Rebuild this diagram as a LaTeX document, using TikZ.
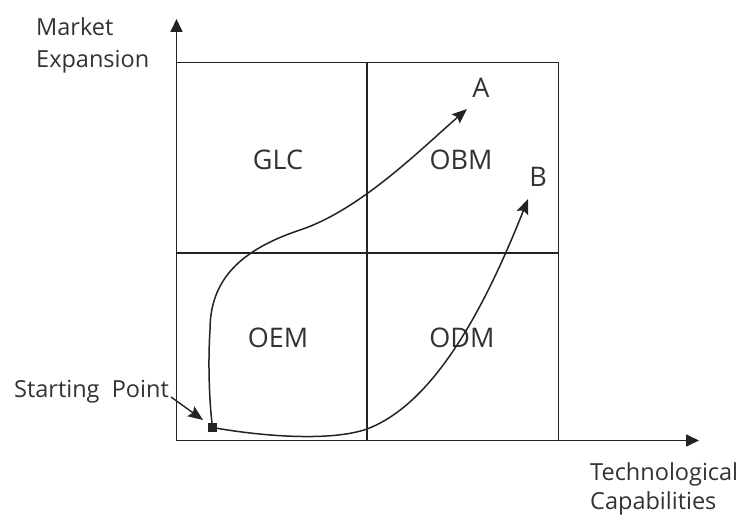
\documentclass[tikz,border=0pt]{standalone}
\usepackage{fontspec}
\setmainfont{Open Sans}
\usetikzlibrary{arrows.meta}
\definecolor{lc}{RGB}{35,35,35}
\definecolor{tc}{RGB}{50,50,50}
\begin{document}
\begin{tikzpicture}[x=1pt,y=-1pt,
  ln/.style={draw=lc, line width=1.7pt},
  axis/.style={draw=lc, line width=1.7pt, -{Triangle[length=13pt,width=12pt]}},
  curve/.style={draw=lc, line width=1.5pt, -{Stealth[length=15pt,width=12pt,inset=2.5pt]}},
  axlbl/.style={text=tc, inner sep=0, align=left},
  qlbl/.style={font=\fontsize{27}{32}\selectfont, text=tc, inner sep=0},
]
\useasboundingbox (0,0) rectangle (742,516);
% axes
\coordinate (O) at (176.5,440.5);
\coordinate (ytip) at (176.5,19);
\coordinate (xtip) at (699,440.5);
\draw[axis] (O) -- (ytip);
\draw[axis] (O) -- (xtip);
% grid
\draw[ln] (176.5,62.5) -- (558.5,62.5) -- (558.5,440.5);
\draw[ln] (367,62.5) -- (367,440.5);
\draw[ln] (176.5,253) -- (558.5,253);
% quadrant labels
\node[qlbl] (glc) at (278,160) {GLC};
\node[qlbl] (obm) at (461,160) {OBM};
\node[qlbl] (oem) at (278,338) {OEM};
\node[qlbl] (odm) at (462,338) {ODM};
\node[qlbl] (la) at (481,88) {A};
\node[qlbl] (lb) at (538,177) {B};
% axis labels
\node[axlbl, font=\fontsize{23.5}{32}\selectfont, anchor=north west] (ylab) at (36,17) {Market\\Expansion};
\node[axlbl, font=\fontsize{23.5}{29}\selectfont, anchor=north west] (xlab) at (590,462) {Technological\\Capabilities};
% start point
\node[fill=lc, minimum size=8.5pt, inner sep=0] (start) at (212.5,427.5) {};
\node[axlbl, font=\fontsize{23.5}{29}\selectfont, anchor=base west] (sp) at (14,397) {Starting\ \ Point};
\draw[curve, line width=1.4pt] ([xshift=2pt]sp.base east) -- ([shift={(-5,-3)}]start.north west);
% paths
\coordinate (endA) at (467,109);
\coordinate (endB) at (528,199);
\draw[curve] (start.center) .. controls (209,400) and (208,360) .. (210,330)
  .. controls (210,280) and (240,250) .. (300,230)
  .. controls (360,210) and (420,150) .. (endA);
\draw[curve] (start.center) .. controls (260,436) and (330,442) .. (367,429)
  .. controls (430,405) and (480,320) .. (endB);
\end{tikzpicture}
\end{document}
